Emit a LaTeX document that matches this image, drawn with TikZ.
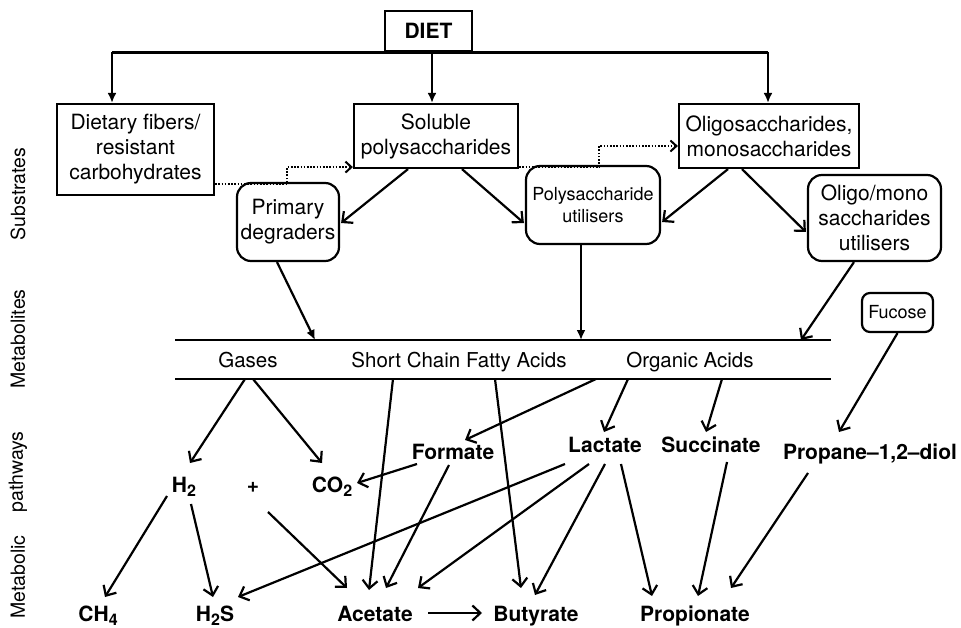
\documentclass[tikz,border=0pt]{standalone}
\usepackage{fontspec}
\setmainfont{TeX Gyre Heros}
\usetikzlibrary{arrows.meta,calc}
\newcommand\lowsub[1]{\raisebox{-0.4ex}{\fontsize{16}{16}\selectfont #1}}
\begin{document}
\begin{tikzpicture}[x=1pt,y=-1pt,
  ln/.style={line width=2.2pt},
  sq/.style={draw, line width=2.2pt, inner sep=0pt, align=center, font=\fontsize{21}{25}\selectfont},
  rd/.style={sq, rounded corners=14pt},
  lab/.style={font=\bfseries\fontsize{21}{25}\selectfont, inner sep=0pt, anchor=base},
  side/.style={font=\fontsize{19.5}{22}\selectfont, rotate=90, inner sep=0pt},
  bandtxt/.style={font=\fontsize{20.5}{24}\selectfont, inner sep=0pt, anchor=base},
  tri/.style={ln, -{Latex[length=10pt,width=9pt]}},
  barb/.style={ln, -{Straight Barb[length=8pt,width=15pt]}},
  dots/.style={line width=2pt, dash pattern=on 1.6pt off 1.6pt, -{Straight Barb[length=6pt,width=11pt]}},
]
\useasboundingbox (0,0) rectangle (961,628);

% boxes
\node[sq, minimum width=87pt, minimum height=40pt, font=\bfseries\fontsize{21}{25}\selectfont] (diet) at (428.5,31) {DIET};
\node[sq, minimum width=157pt, minimum height=91pt] (fib) at (135.5,149.5) {Dietary fibers/\\resistant\\carbohydrates};
\node[sq, minimum width=164pt, minimum height=64pt] (sol) at (436,136) {Soluble\\polysaccharides};
\node[sq, minimum width=180pt, minimum height=64pt] (oli) at (769,136) {Oligosaccharides,\\monosaccharides};
\node[rd, minimum width=102pt, minimum height=78pt] (prim) at (288,222) {Primary\\degraders};
\node[rd, minimum width=134pt, minimum height=78pt, font=\fontsize{18}{22}\selectfont] (poly) at (593,205) {Polysaccharide\\utilisers};
\node[rd, minimum width=133pt, minimum height=86pt] (om) at (874.5,218) {Oligo/mono\\saccharides\\utilisers};
\node[rd, rounded corners=8pt, minimum width=71pt, minimum height=39pt, font=\fontsize{18}{22}\selectfont] (fuc) at (897.5,312.5) {Fucose};

% side labels
\node[side] (s1) at (18,194) {Substrates};
\node[side] (s2) at (18,339) {Metabolites};
\node[side] (s3) at (18,472) {pathways};
\node[side] (s4) at (18,577) {Metabolic};

% band
\coordinate (bTL) at (175,340);
\coordinate (bTR) at (831,340);
\coordinate (bBL) at (175,379);
\coordinate (bBR) at (831,379);
\draw[ln] (bTL) -- (bTR);
\draw[ln] (bBL) -- (bBR);
\node[bandtxt] (gas) at (248,367) {Gases};
\node[bandtxt] (scfa) at (459,367) {Short Chain Fatty Acids};
\node[bandtxt] (oa) at (690,367) {Organic Acids};

% metabolite labels
\node[lab] (h2) at (184,492) {H\lowsub{2}};
\node[lab] (plus) at (253,492) {+};
\node[lab] (co2) at (332,492) {CO\lowsub{2}};
\node[lab] (form) at (453,459) {Formate};
\node[lab] (lac) at (605,452) {Lactate};
\node[lab] (suc) at (711,452) {Succinate};
\node[lab] (prop) at (870,459) {Propane–1,2–diol};
\node[lab] (ch4) at (98,621) {CH\lowsub{4}};
\node[lab] (h2s) at (215,621) {H\lowsub{2}S};
\node[lab] (ace) at (375,621) {Acetate};
\node[lab] (but) at (536,621) {Butyrate};
\node[lab] (pro) at (695,621) {Propionate};

% diet tree
\draw[line width=3pt] ($(diet.south)+(-316.5,0)$) -- ($(diet.south)+(339.5,0)$);
\draw[tri] ($(diet.south)+(-316.5,0)$) -- ($(fib.north)+(-23.5,0)$);
\draw[tri] ($(diet.south)+(3.5,0)$) -- ($(sol.north)+(-4,0)$);
\draw[tri] ($(diet.south)+(339.5,0)$) -- ($(oli.north)+(-1,0)$);

% dotted
\draw[dots] ($(fib.south east)+(0,-12)$) -- ++(72,0) |- ($(sol.south west)+(0,-2)$);
\draw[dots] ($(sol.south east)+(0,-2)$) -- ++(80,0) |- ($(oli.west)+(0,10)$);

% substrates to utilisers
\draw[barb] ($(sol.south)+(-28,0)$) -- ($(prim.east)+(1,1)$);
\draw[barb] ($(sol.south)+(26,0)$) -- ($(poly.west)+(-1,18)$);
\draw[barb] ($(oli.south)+(-41,0)$) -- ($(poly.east)+(1,17)$);
\draw[barb] ($(oli.south)+(-27,0)$) -- ($(om.west)+(-1,14)$);
\draw[tri] ($(prim.south)+(-11,0)$) -- ($(bTL)+(140,0)$);
\draw[tri] ($(poly.south)+(-12,0)$) -- ($(bTL)+(406,0)$);
\draw[barb] ($(om.south)+(-20.5,0)$) -- ($(bTL)+(626,0)$);

% pathways
\draw[barb] ($(gas.base)+(-3,12)$) -- ($(h2.base)+(6,-29)$);
\draw[barb] ($(gas.base)+(5,12)$) -- ($(co2.base)+(-10,-29)$);
\draw[barb] ($(scfa.base)+(-66,12)$) -- ($(ace.base)+(-6,-31)$);
\draw[barb] ($(scfa.base)+(36,12)$) -- ($(but.base)+(-15,-33)$);
\draw[barb] ($(oa.base)+(-94,12)$) -- ($(form.base)+(12,-19)$);
\draw[barb] ($(oa.base)+(-62,12)$) -- ($(lac.base)+(-1,-20)$);
\draw[barb] ($(oa.base)+(32,12)$) -- ($(suc.base)+(-5,-20)$);
\draw[barb] (fuc.south) -- ($(prop.base)+(-31,-27)$);
\draw[barb] ($(form.base)+(-36,5)$) -- ($(co2.base)+(25,-9)$);
\draw[barb] ($(form.base)+(-4,6)$) -- ($(ace.base)+(11,-33)$);
\draw[barb] ($(lac.base)+(-40,12)$) -- ($(h2s.base)+(23,-24)$);
\draw[barb] ($(lac.base)+(-16,12)$) -- ($(ace.base)+(43,-33)$);
\draw[barb] ($(lac.base)+(0,12)$) -- ($(but.base)+(-1,-26)$);
\draw[barb] ($(lac.base)+(16,12)$) -- ($(pro.base)+(-43,-25)$);
\draw[barb] ($(suc.base)+(16,10)$) -- ($(pro.base)+(3,-25)$);
\draw[barb] ($(prop.base)+(-62,14)$) -- ($(pro.base)+(36,-33)$);
\draw[barb] ($(h2.base)+(-17,4)$) -- ($(ch4.base)+(7,-24)$);
\draw[barb] ($(h2.base)+(7,12)$) -- ($(h2s.base)+(-2,-24)$);
\draw[barb] ($(plus.base)+(15,20)$) -- ($(ace.base)+(-28,-33)$);
\draw[barb] ($(ace.base)+(53,-8)$) -- ($(but.base)+(-54,-8)$);
\end{tikzpicture}
\end{document}
